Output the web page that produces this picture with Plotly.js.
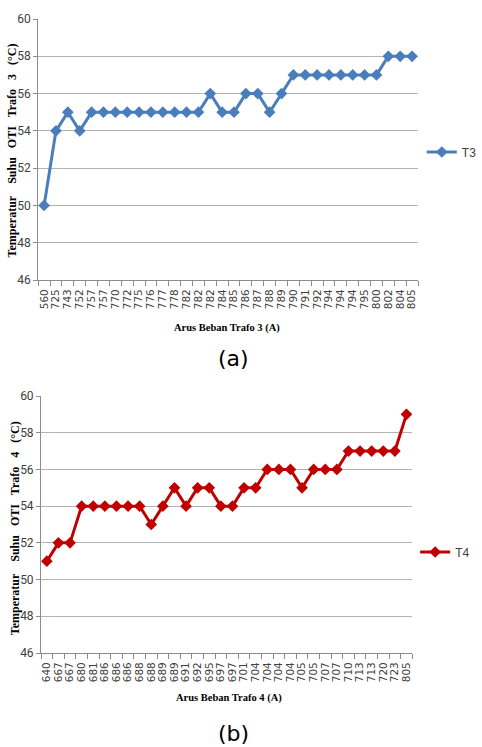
<!DOCTYPE html>
<html><head><meta charset="utf-8">
<script src="https://cdn.plot.ly/plotly-3.0.1.min.js"></script>
<style>html,body{margin:0;padding:0;background:#fff;overflow:hidden;} #chart{width:482px;height:747px;}</style>
</head><body><div id="chart"></div>
<script>
// Chart (a): Trafo 3
const currentA = ['560','725','743','752','757','757','770','772','775','776','777','778','782','782','782','784',
                  '785','786','787','788','789','790','791','792','794','794','794','795','800','802','804','805'];
const tempA = [50,54,55,54,55,55,55,55,55,55,55,55,55,55,56,55,55,56,56,55,56,57,57,57,57,57,57,57,57,58,58,58];
// Chart (b): Trafo 4
const currentB = ['640','667','667','680','681','686','686','686','688','688','689','689','691','692','695','697','697',
                  '701','704','704','704','704','705','705','707','707','710','713','713','720','723','805'];
const tempB = [51,52,52,54,54,54,54,54,54,53,54,55,54,55,55,54,54,55,55,56,56,56,55,56,56,56,57,57,57,57,57,59];
const yTicks = [46,48,50,52,54,56,58,60];
const seriesNames = ['T3','T4'];
const xTitles = ['Arus Beban Trafo 3 (A)','Arus Beban Trafo 4 (A)'];
const yTitles = ['Temperatur\u00a0\u00a0\u00a0 Suhu\u00a0\u00a0 OTI\u00a0\u00a0 Trafo\u00a0\u00a0 3\u00a0\u00a0 (\u00b0C)',
                 'Temperatur\u00a0\u00a0\u00a0 Suhu\u00a0\u00a0 OTI\u00a0\u00a0 Trafo\u00a0\u00a0 4\u00a0\u00a0 (\u00b0C)'];
const panelLabels = ['(a)','(b)'];

const W = 482, H = 747;
const px = v => v / W;
const py = v => 1 - v / H;

const idxA = currentA.map((_, i) => i);
const idxB = currentB.map((_, i) => i);

const colA = '#4a7ebb', colB = '#c00000';
const gridCol = '#b4b4b4', axisCol = '#8c8c8c';
const tickFont = {family: 'DejaVu Sans, Verdana, sans-serif', size: 10.5, color: '#404040'};
const yTickFont = {family: 'Liberation Sans Narrow, Arial Narrow, Roboto, sans-serif', size: 12, color: '#404040'};
const titleFont = {family: 'Liberation Serif, Times New Roman, serif', size: 12, color: '#000', weight: 700};
const xTitleFont = {family: 'Liberation Serif, Times New Roman, serif', size: 10.5, color: '#000', weight: 700};

const traces = [
  {x: idxA, y: tempA, type: 'scatter', mode: 'lines+markers', name: seriesNames[0],
   xaxis: 'x', yaxis: 'y', legend: 'legend',
   line: {color: colA, width: 3}, marker: {symbol: 'diamond', size: 9, color: colA}},
  {x: idxB, y: tempB, type: 'scatter', mode: 'lines+markers', name: seriesNames[1],
   xaxis: 'x2', yaxis: 'y2', legend: 'legend2',
   line: {color: colB, width: 3}, marker: {symbol: 'diamond', size: 9, color: colB}}
];

function xAxis(domain, idx, labels, anchor) {
  return {
    domain: domain, anchor: anchor, range: [-0.5, idx.length - 0.5],
    tickmode: 'array', tickvals: idx, ticktext: labels, tickangle: -90,
    ticks: '', showgrid: false, zeroline: false, fixedrange: true,
    showline: true, linecolor: axisCol, linewidth: 1,
    tickfont: tickFont, ticklabelstandoff: 4,
    minor: {tickmode: 'linear', tick0: -0.5, dtick: 1, ticks: 'outside', ticklen: 5,
            tickcolor: axisCol, tickwidth: 1, showgrid: false}
  };
}
function yAxis(domain, anchor) {
  return {
    domain: domain, anchor: anchor, range: [46, 60],
    tickmode: 'array', tickvals: yTicks, ticks: 'outside', ticklen: 4,
    tickcolor: axisCol, showgrid: true, gridcolor: gridCol, gridwidth: 1,
    zeroline: false, showline: true, linecolor: axisCol, linewidth: 1,
    tickfont: yTickFont, fixedrange: true
  };
}

const legendFont = {family: 'Liberation Sans Narrow, Arial Narrow, sans-serif', size: 12, color: '#404040'};
const layout = {
  width: W, height: H,
  margin: {l: 0, r: 0, t: 0, b: 0},
  paper_bgcolor: '#fff', plot_bgcolor: '#fff',
  showlegend: true,
  xaxis: xAxis([px(40), px(438)], idxA, currentA, 'y'),
  yaxis: yAxis([py(280), py(19)], 'x'),
  xaxis2: xAxis([px(43), px(432)], idxB, currentB, 'y2'),
  yaxis2: yAxis([py(653), py(396)], 'x2'),
  legend: {x: px(442), y: py(152), xanchor: 'left', yanchor: 'middle', font: legendFont,
           bgcolor: 'rgba(0,0,0,0)', borderwidth: 0, itemwidth: 30},
  legend2: {x: px(435), y: py(552), xanchor: 'left', yanchor: 'middle', font: legendFont,
           bgcolor: 'rgba(0,0,0,0)', borderwidth: 0, itemwidth: 30},
  annotations: [
    {text: xTitles[0], xref: 'paper', yref: 'paper', x: px(238), y: py(328), xanchor: 'center', yanchor: 'middle', showarrow: false, font: xTitleFont},
    {text: xTitles[1], xref: 'paper', yref: 'paper', x: px(240), y: py(698), xanchor: 'center', yanchor: 'middle', showarrow: false, font: xTitleFont},
    {text: yTitles[0], xref: 'paper', yref: 'paper', x: px(13), y: py(150), xanchor: 'center', yanchor: 'middle', textangle: -90, showarrow: false, font: titleFont},
    {text: yTitles[1], xref: 'paper', yref: 'paper', x: px(16), y: py(528), xanchor: 'center', yanchor: 'middle', textangle: -90, showarrow: false, font: titleFont},
    {text: panelLabels[0], xref: 'paper', yref: 'paper', x: px(245), y: py(358), xanchor: 'center', yanchor: 'middle', showarrow: false,
     font: {family: 'DejaVu Sans, Verdana, sans-serif', size: 22, color: '#000'}},
    {text: panelLabels[1], xref: 'paper', yref: 'paper', x: px(245), y: py(733), xanchor: 'center', yanchor: 'middle', showarrow: false,
     font: {family: 'DejaVu Sans, Verdana, sans-serif', size: 22, color: '#000'}}
  ]
};

Plotly.newPlot('chart', traces, layout, {displayModeBar: false, staticPlot: true});
</script>
</body></html>
